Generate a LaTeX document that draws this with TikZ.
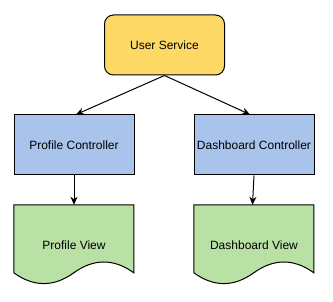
\documentclass[tikz,border=0pt]{standalone}
\usepackage{fontspec}
\setmainfont{Liberation Sans}
\usetikzlibrary{arrows.meta,calc,backgrounds}
\definecolor{usfill}{HTML}{FFD966}
\definecolor{ctlfill}{HTML}{A9C4EB}
\definecolor{viewfill}{HTML}{B9E0A5}
\begin{document}
\begin{tikzpicture}[x=1pt,y=1pt,
  box/.style={draw=black,line width=1pt,minimum width=120pt,minimum height=60pt,inner sep=0pt,font=\fontsize{12}{14}\selectfont},
  svcbox/.style={box,fill=usfill,rounded corners=9pt},
  ctlbox/.style={box,fill=ctlfill},
  viewnode/.style={minimum width=120pt,minimum height=80pt,inner sep=0pt,font=\fontsize{12}{14}\selectfont},
  docshape/.style={draw=black,line width=1pt,fill=viewfill},
  conn/.style={draw=black,line width=1pt,-{Stealth[length=8pt,width=7pt,inset=2.5pt]}}]
\useasboundingbox (0,0) rectangle (333,302);
\node[svcbox] (us) at (164.5,257) {User Service};
\node[ctlbox] (pc) at (74,157) {Profile Controller};
\node[ctlbox] (dc) at (254,157) {Dashboard Controller};
\node[viewnode] (pv) at (74,57) {Profile View};
\node[viewnode] (dv) at (254,57) {Dashboard View};
\begin{pgfonlayer}{background}
\foreach \d in {pv,dv}{
  \begin{scope}[shift={(\d.north west)}]
    \path[docshape] (0,0) -- (120,0) -- (120,-68)
      .. controls (100,-53.6) and (80,-53.6) .. (60,-68)
      .. controls (40,-82.4) and (20,-82.4) .. (0,-68) -- cycle;
  \end{scope}
}
\end{pgfonlayer}
\draw[conn] (us.south) -- ($(pc.north)+(2,0)$);
\draw[conn] (us.south) -- ($(dc.north)+(-4,0)$);
\draw[conn] (pc.south) -- (pv.north);
\draw[conn] (dc.south) -- ($(dv.north)+(-1.5,0)$);
\end{tikzpicture}
\end{document}
